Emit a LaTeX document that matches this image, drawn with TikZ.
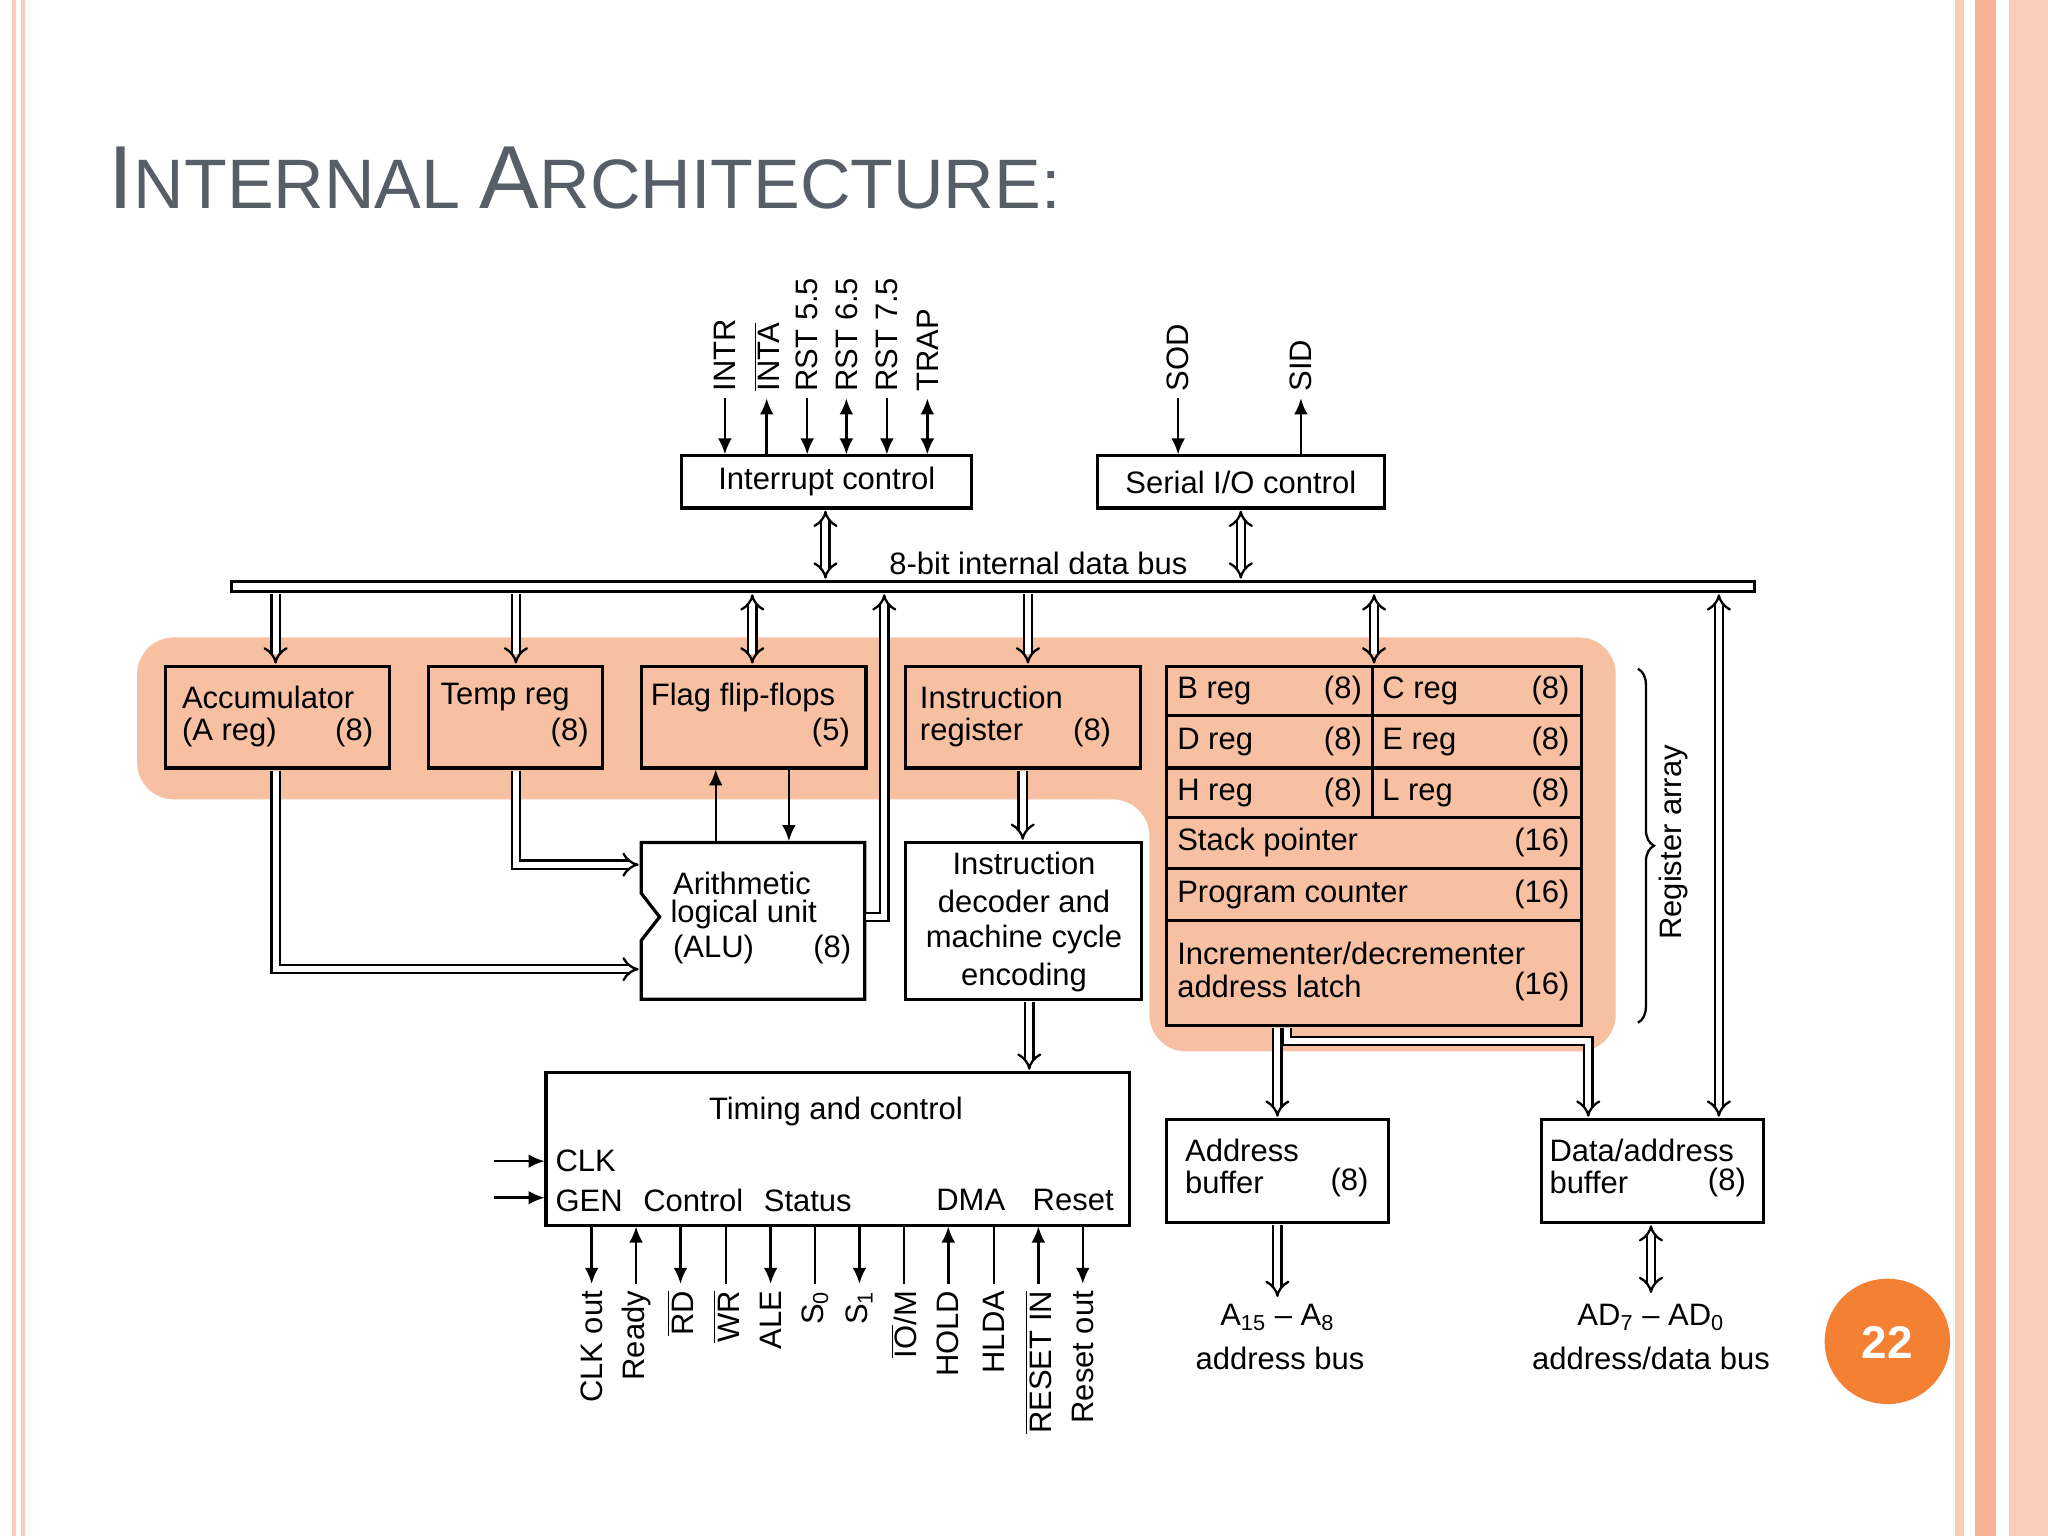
\documentclass[tikz,border=0pt]{standalone}
\usepackage{fontspec}
\setmainfont{Liberation Sans}
\usetikzlibrary{arrows.meta,decorations.pathreplacing}
\definecolor{hl}{RGB}{247,192,163}
\definecolor{stripeA}{RGB}{250,205,185}
\definecolor{stripeB}{RGB}{246,178,150}
\definecolor{titlegray}{RGB}{88,94,104}
\definecolor{badge}{RGB}{244,128,52}
\tikzset{
  txt/.style={font=\fontsize{13.5}{16}\selectfont, inner sep=0pt},
  sig/.style={font=\fontsize{13.5}{16}\selectfont, inner sep=0pt, rotate=90},
  dbl/.style={double, double distance=2.6pt, line width=1pt, -{Implies}},
  dbb/.style={double, double distance=2.6pt, line width=1pt, {Implies}-{Implies}},
  sl/.style={line width=1.1pt},
  sa/.style={line width=1.1pt, -{Latex[length=7pt,width=6pt]}},
  sb/.style={line width=1.1pt, {Latex[length=7pt,width=6pt]}-{Latex[length=7pt,width=6pt]}},
}
\newcommand{\ovl}[1]{$\overline{\mbox{#1}}$}
\begin{document}
\begin{tikzpicture}[x=0.02cm,y=-0.02cm]
\useasboundingbox (0,0) rectangle (1568,1176);
\fill[white] (0,0) rectangle (1568,1176);
% page borders
\fill[stripeA] (9,0) rectangle (12,1176);
\fill[stripeA] (16,0) rectangle (19,1176);
\fill[stripeA] (1497,0) rectangle (1504,1176);
\fill[stripeB] (1512,0) rectangle (1528,1176);
\fill[stripeA] (1538,0) rectangle (1568,1176);
% title
\node[anchor=base west, inner sep=0pt, text=titlegray] (title) at (83,160)
  {\fontsize{39}{42}\selectfont I\fontsize{30.5}{33}\selectfont NTERNAL \fontsize{39}{42}\selectfont A\fontsize{30.5}{33}\selectfont RCHITECTURE:};
% badge
\fill[badge] (1445,1027) circle (48);
\node[text=white, font=\fontsize{20}{22}\selectfont\bfseries] (pnum) at (1445,1028) {22};
% highlight
\fill[hl, rounded corners=16] (105,488) -- (1237,488) -- (1237,805) -- (880,805) -- (880,612) -- (105,612) -- cycle;

% boxes
\draw[line width=1.4pt] (522,349) rectangle (744,389);
\node[txt] (intct) at (633,369) {Interrupt control};
\draw[line width=1.4pt] (840,349) rectangle (1060,389);
\node[txt] (serc) at (950,369) {Serial I/O control};
% bus
\draw[line width=1.2pt, fill=white] (177,445) rectangle (1343,453);
\node[txt] (buslbl) at (795,431) {8-bit internal data bus};

% register boxes
\draw[line width=1.4pt] (127,510) rectangle (298,588);
\node[txt, anchor=west] (acc1) at (139,534) {Accumulator};
\node[txt, anchor=west] (acc2) at (139,561) {(A reg)};
\node[txt, anchor=east] (acc3) at (286,561) {(8)};
\draw[line width=1.4pt] (328,510) rectangle (461,588);
\node[txt, anchor=west] (tmp1) at (337,534) {Temp reg};
\node[txt, anchor=east] (tmp2) at (451,561) {(8)};
\draw[line width=1.4pt] (491,510) rectangle (663,588);
\node[txt, anchor=west] (flg1) at (498,534) {Flag flip-flops};
\node[txt, anchor=east] (flg2) at (651,561) {(5)};
\draw[line width=1.4pt] (693,510) rectangle (873,588);
\node[txt, anchor=west] (ir1) at (704,534) {Instruction};
\node[txt, anchor=west] (ir2) at (704,561) {register};
\node[txt, anchor=east] (ir3) at (851,561) {(8)};

% register array
\draw[line width=1.4pt] (893,510) rectangle (1211,785);
\foreach \yy in {548,588,626,665,705} \draw[line width=1.4pt] (893,\yy) -- (1211,\yy);
\draw[line width=1.4pt] (1051,510) -- (1051,626);
\node[txt, anchor=west] (breg) at (901,529) {B reg};
\node[txt, anchor=east] (b8) at (1043,529) {(8)};
\node[txt, anchor=west] (creg) at (1058,529) {C reg};
\node[txt, anchor=east] (c8) at (1202,529) {(8)};
\node[txt, anchor=west] (dreg) at (901,568) {D reg};
\node[txt, anchor=east] (d8) at (1043,568) {(8)};
\node[txt, anchor=west] (ereg) at (1058,568) {E reg};
\node[txt, anchor=east] (e8) at (1202,568) {(8)};
\node[txt, anchor=west] (hreg) at (901,607) {H reg};
\node[txt, anchor=east] (h8) at (1043,607) {(8)};
\node[txt, anchor=west] (lreg) at (1058,607) {L reg};
\node[txt, anchor=east] (l8) at (1202,607) {(8)};
\node[txt, anchor=west] (sp) at (901,645) {Stack pointer};
\node[txt, anchor=east] (sp16) at (1202,645) {(16)};
\node[txt, anchor=west] (pc) at (901,685) {Program counter};
\node[txt, anchor=east] (pc16) at (1202,685) {(16)};
\node[txt, anchor=west] (inc1) at (901,730) {Incrementer/decrementer};
\node[txt, anchor=west] (inc2) at (901,755) {address latch};
\node[txt, anchor=east] (inc16) at (1202,755) {(16)};
\draw[line width=1pt, decorate, decoration={brace, amplitude=7pt}] (1254,512) -- (1254,783);
\node[txt, rotate=90] (ralbl) at (1281,645) {Register array};

% ALU
\draw[line width=1.4pt, fill=white] (491,645) -- (662,645) -- (662,765) -- (491,765) -- (491,720) -- (505,702) -- (491,684) -- cycle;
\node[txt, anchor=west] (alu1) at (515,676) {Arithmetic};
\node[txt, anchor=west] (alu2) at (513,700) {logical unit};
\node[txt, anchor=west] (alu3) at (515,727) {(ALU)};
\node[txt, anchor=east] (alu4) at (652,727) {(8)};
% decoder
\draw[line width=1.4pt, fill=white] (693,645) rectangle (874,765);
\node[txt] (dec1) at (784,661) {Instruction};
\node[txt] (dec2) at (784,690) {decoder and};
\node[txt] (dec3) at (784,719) {machine cycle};
\node[txt] (dec4) at (784,748) {encoding};

% timing and control
\draw[line width=1.4pt] (418,821) rectangle (865,938);
\node[txt] (tc) at (640,851) {Timing and control};
\node[txt, anchor=west] (clk) at (425,889) {CLK};
\node[txt, anchor=west] (gen) at (425,919) {GEN\hspace{9pt}Control\hspace{9pt}Status};
\node[txt, anchor=east] (dma) at (853,919) {DMA\hspace{12pt}Reset};
\coordinate (clkin) at (378,889);
\coordinate (clkend) at (417,889);
\coordinate (genin) at (378,917);
\coordinate (genend) at (417,917);
\draw[sa] (clkin) -- (clkend);
\draw[sa] (genin) -- (genend);

% buffers
\draw[line width=1.4pt] (893,857) rectangle (1063,936);
\node[txt, anchor=west] (ab1) at (907,881) {Address};
\node[txt, anchor=west] (ab2) at (907,905) {buffer};
\node[txt, anchor=east] (ab3) at (1048,905) {(8)};
\draw[line width=1.4pt] (1180,857) rectangle (1350,936);
\node[txt, anchor=west] (db1) at (1186,881) {Data/address};
\node[txt, anchor=west] (db2) at (1186,905) {buffer};
\node[txt, anchor=east] (db3) at (1337,905) {(8)};
\node[txt] (abus1) at (978,1009) {A\textsubscript{15} – A\textsubscript{8}};
\node[txt] (abus2) at (980,1040) {address bus};
\node[txt] (dbus1) at (1264,1009) {AD\textsubscript{7} – AD\textsubscript{0}};
\node[txt] (dbus2) at (1264,1040) {address/data bus};

% fat arrows
\draw[dbb] (632,391) -- (632,443);
\draw[dbb] (950,391) -- (950,443);
\draw[dbl] (211,455) -- (211,508);
\draw[dbl] (395,455) -- (395,508);
\draw[dbb] (576,455) -- (576,508);
\draw[dbl] (787,455) -- (787,508);
\draw[dbb] (1052,455) -- (1052,508);
\draw[dbb] (1316,455) -- (1316,855);
\draw[dbl] (663,702) -- (677,702) -- (677,455);
\draw[dbl] (783,590) -- (783,643);
\draw[dbl] (788,767) -- (788,819);
\draw[dbl] (211,590) -- (211,742) -- (489,742);
\draw[dbl] (395,590) -- (395,662) -- (489,662);
\draw[dbl] (978,787) -- (978,855);
\draw[dbl] (985,787) -- (985,797) -- (1216,797) -- (1216,855);
\draw[dbl] (978,938) -- (978,993);
\draw[dbb] (1264,938) -- (1264,990);
% ALU-flag single arrows
\draw[sa] (548,645) -- (548,589);
\draw[sa] (604,589) -- (604,644);

% interrupt signals
\draw[sa] (555,305) -- (555,348);
\draw[sa] (587,348) -- (587,305);
\draw[sa] (618,305) -- (618,348);
\draw[sb] (648,305) -- (648,348);
\draw[sa] (679,305) -- (679,348);
\draw[sb] (710,305) -- (710,348);
\node[sig, anchor=west] (intr) at (555,300) {INTR};
\node[sig, anchor=west] (inta) at (587,300) {\ovl{INTA}};
\node[sig, anchor=west] (r55) at (618,300) {RST 5.5};
\node[sig, anchor=west] (r65) at (648,300) {RST 6.5};
\node[sig, anchor=west] (r75) at (679,300) {RST 7.5};
\node[sig, anchor=west] (trap) at (710,300) {TRAP};
\draw[sa] (902,305) -- (902,348);
\draw[sa] (996,348) -- (996,305);
\node[sig, anchor=west] (sod) at (902,300) {SOD};
\node[sig, anchor=west] (sid) at (996,300) {SID};

% timing signals
\draw[sa] (453,939) -- (453,983);
\draw[sa] (487,983) -- (487,939);
\draw[sa] (521,939) -- (521,983);
\draw[sl] (556,939) -- (556,983);
\draw[sa] (590,939) -- (590,983);
\draw[sl] (624,939) -- (624,983);
\draw[sa] (658,939) -- (658,983);
\draw[sl] (692,939) -- (692,983);
\draw[sa] (726,983) -- (726,939);
\draw[sl] (761,939) -- (761,983);
\draw[sa] (795,983) -- (795,939);
\draw[sa] (829,939) -- (829,983);
\node[sig, anchor=east] (clko) at (453,988) {CLK out};
\node[sig, anchor=east] (rdy) at (487,988) {Ready};
\node[sig, anchor=east] (rd) at (521,988) {\ovl{RD}};
\node[sig, anchor=east] (wr) at (556,988) {\ovl{WR}};
\node[sig, anchor=east] (ale) at (590,988) {ALE};
\node[sig, anchor=east] (s0) at (624,988) {S\textsubscript{0}};
\node[sig, anchor=east] (s1) at (658,988) {S\textsubscript{1}};
\node[sig, anchor=east] (iom) at (692,988) {\ovl{IO}/M};
\node[sig, anchor=east] (hold) at (726,988) {HOLD};
\node[sig, anchor=east] (hlda) at (761,988) {HLDA};
\node[sig, anchor=east] (rstin) at (795,988) {\ovl{RESET IN}};
\node[sig, anchor=east] (rsto) at (829,988) {Reset out};
\end{tikzpicture}
\end{document}
